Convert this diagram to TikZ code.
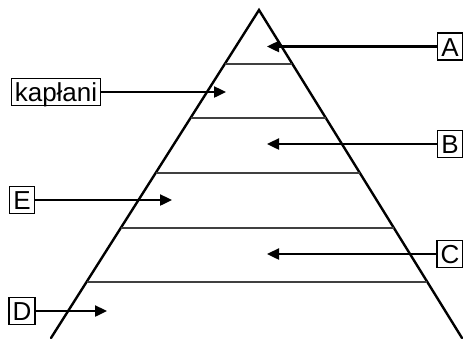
\documentclass[tikz,border=0pt]{standalone}
\usepackage{fontspec}
\setmainfont{Liberation Sans}
\usetikzlibrary{arrows.meta,calc}
\tikzset{
  lbl/.style={draw,line width=1.3pt,font=\fontsize{26}{28}\selectfont,inner xsep=3.5pt,inner ysep=0pt,minimum height=27pt,text height=20pt,text depth=1pt},
  side/.style={line width=2.4pt,line cap=round},
  layer/.style={line width=1.1pt,black!75},
  ptr/.style={line width=2.4pt,-{Triangle[length=12pt,width=11pt]}}
}
\begin{document}
\begin{tikzpicture}[x=1pt,y=-1pt]
\useasboundingbox (0,0) rectangle (463,338);
\coordinate (apex) at (259,10);
\coordinate (bl) at (51,338);
\coordinate (br) at (462,338);
\draw[side] (bl) -- (apex) -- (br);
\foreach \yy in {64,118,173,228,282}{
  \draw[layer] ($(apex)!{(\yy-10)/328}!(bl)$) -- ($(apex)!{(\yy-10)/328}!(br)$);
}
\node[lbl] (A) at (450,46.5) {A};
\node[lbl] (B) at (450,144) {B};
\node[lbl] (C) at (450,254) {C};
\node[lbl] (K) at (56,92) {kapłani};
\node[lbl] (E) at (22,200) {E};
\node[lbl] (D) at (22,311) {D};
\coordinate (tA) at (267,46.5);
\coordinate (tB) at (267,144);
\coordinate (tC) at (267,254);
\coordinate (tK) at (226,92);
\coordinate (tE) at (172,200);
\coordinate (tD) at (107,311);
\draw[ptr] (A.west) -- (tA);
\draw[ptr] (B.west) -- (tB);
\draw[ptr] (C.west) -- (tC);
\draw[ptr] (K.east) -- (tK);
\draw[ptr] (E.east) -- (tE);
\draw[ptr] (D.east) -- (tD);
\end{tikzpicture}
\end{document}
